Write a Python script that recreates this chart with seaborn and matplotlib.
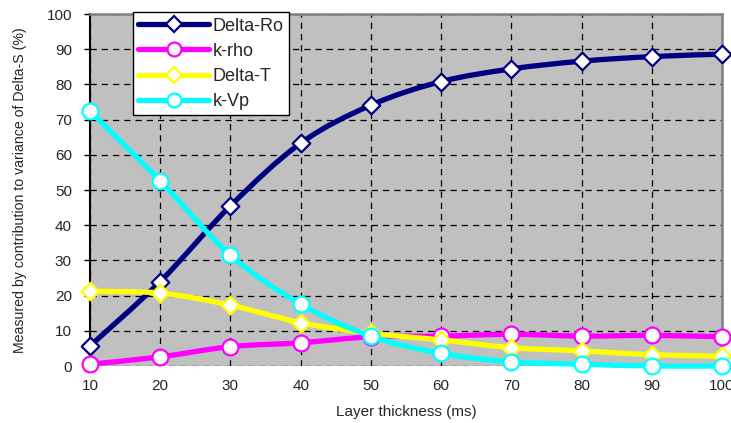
import numpy as np
import pandas as pd
import matplotlib
matplotlib.use("Agg")
import matplotlib.pyplot as plt
from matplotlib.path import Path
from matplotlib.patches import PathPatch
from matplotlib.lines import Line2D
import seaborn as sns

# ---- data ----
thickness = [10, 20, 30, 40, 50, 60, 70, 80, 90, 100]
delta_ro = [5.7, 24.0, 45.5, 63.3, 74.1, 80.8, 84.4, 86.6, 87.9, 88.6]
k_rho = [0.5, 2.6, 5.5, 6.6, 8.3, 8.5, 9.0, 8.5, 8.7, 8.3]
delta_t = [21.2, 20.7, 17.3, 12.3, 9.3, 7.4, 5.2, 4.3, 3.2, 2.8]
k_vp = [72.4, 52.6, 31.5, 17.6, 8.5, 3.6, 1.2, 0.5, 0.0, 0.0]

series_names = ["Delta-Ro", "k-rho", "Delta-T", "k-Vp"]
series_values = [delta_ro, k_rho, delta_t, k_vp]
colors = ["#000080", "#FF00FF", "#FFFF00", "#00FFFF"]
markers = ["D", "o", "D", "o"]
yticks = [0, 10, 20, 30, 40, 50, 60, 70, 80, 90, 100]

df = pd.DataFrame({
    "thickness": np.tile(thickness, len(series_names)),
    "value": np.concatenate(series_values),
    "series": np.repeat(series_names, len(thickness)),
})

sns.set_theme(style="white")
plt.rcParams["font.family"] = ["Liberation Sans", "DejaVu Sans"]

fig = plt.figure(figsize=(7.31, 4.23), dpi=100)
ax = fig.add_axes([90 / 731, 57 / 423, 632 / 731, 352 / 423])
ax.set_facecolor("#C0C0C0")


def smooth_path(xs, ys):
    pts = np.column_stack([xs, ys]).astype(float)
    n = len(pts)
    verts = [pts[0]]
    codes = [Path.MOVETO]
    for i in range(n - 1):
        p0 = pts[i - 1] if i > 0 else pts[i]
        p1 = pts[i]
        p2 = pts[i + 1]
        p3 = pts[i + 2] if i + 2 < n else pts[i + 1]
        c1 = p1 + (p2 - p0) / 6.0
        c2 = p2 - (p3 - p1) / 6.0
        verts += [c1, c2, p2]
        codes += [Path.CURVE4] * 3
    return Path(verts, codes)


for k, (name, col, mk) in enumerate(zip(series_names, colors, markers)):
    sub = df[df["series"] == name]
    patch = PathPatch(smooth_path(sub["thickness"].values, sub["value"].values),
                      facecolor="none", edgecolor=col, lw=3.8,
                      capstyle="round", joinstyle="round",
                      transform=ax.transData, zorder=3 + 2 * k, clip_on=False)
    ax.add_patch(patch)
    sns.scatterplot(data=sub, x="thickness", y="value", ax=ax,
                    marker=mk, s=80 if mk == "D" else 130,
                    color="white", edgecolor=col, linewidth=1.6,
                    zorder=4 + 2 * k, clip_on=False, legend=False)

ax.set_xlim(10, 100)
ax.set_ylim(0, 100)
ax.set_xticks(thickness)
ax.set_yticks(yticks)
ax.set_xticklabels([str(t) for t in thickness], fontsize=11)
ax.set_yticklabels([str(t) for t in yticks], fontsize=11)
ax.tick_params(axis="y", which="both", left=True, length=4, width=1, color="black", pad=9)
ax.tick_params(axis="x", which="both", bottom=False, pad=3)

ax.grid(True, color="black", linestyle=(0, (5, 4)), linewidth=0.9)
ax.set_axisbelow(True)

ax.spines["left"].set_color("black")
ax.spines["left"].set_linewidth(1.5)
ax.spines["bottom"].set_visible(False)
for s in ["top", "right"]:
    ax.spines[s].set_color("#808080")
    ax.spines[s].set_linewidth(1.8)

ax.set_xlabel("Layer thickness (ms)", fontsize=11, labelpad=9)
ax.set_ylabel("Measured by contribution to variance of Delta-S (%)", fontsize=10.2, labelpad=14)

handles = [Line2D([0], [0], color=c, lw=3.8, marker=m,
                  markersize=8 if m == "D" else 10,
                  markerfacecolor="white", markeredgecolor=c, markeredgewidth=1.6)
           for c, m in zip(colors, markers)]
leg = ax.legend(handles, series_names, loc="upper left",
                bbox_to_anchor=(43 / 632, 1.005), fontsize=13,
                frameon=True, fancybox=False, framealpha=1, edgecolor="black",
                handlelength=3.9, handletextpad=0.2, borderpad=0.3,
                labelspacing=0.45, borderaxespad=0)
leg.get_frame().set_linewidth(1.0)
leg.set_zorder(20)

fig.savefig("out.png", dpi=100)
